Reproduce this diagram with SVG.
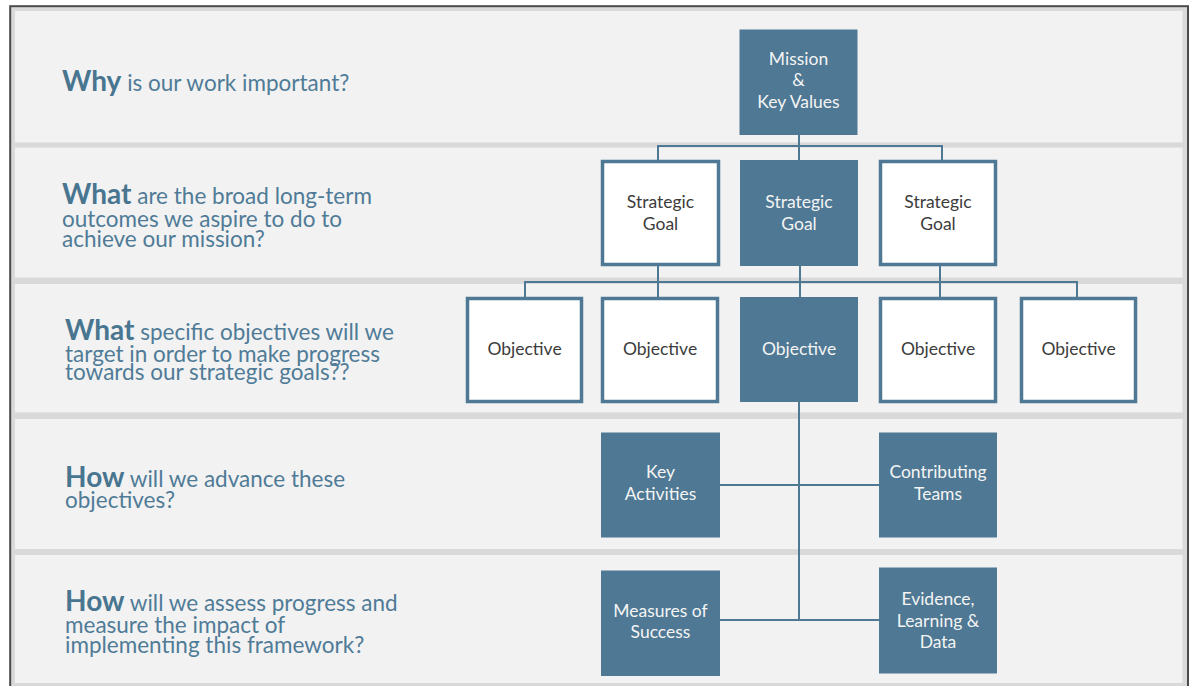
<svg xmlns="http://www.w3.org/2000/svg" width="1192" height="686" viewBox="0 0 1192 686">
<style>
.panel{fill:#f2f2f2}
.q{font-family:Lato,"Open Sans",sans-serif;fill:#4f7b97;font-size:22.5px}
.qb{font-weight:bold;font-size:28px;fill:#48758f}
.dark{fill:#4e7893}
.light{fill:#ffffff;stroke:#4e7893;stroke-width:3.5}
.t{font-family:Lato,"Open Sans",sans-serif;font-size:17.5px;text-anchor:middle}
.tw{fill:#f4f4f4}
.tk{fill:#3c3c3c}
.conn{fill:none;stroke:#4e7893;stroke-width:2}
</style>
<rect x="0" y="0" width="1192" height="686" fill="#ffffff"/>
<rect x="10.2" y="6.2" width="1177.8" height="690" fill="#d9d9d9" stroke="#4a4a4a" stroke-width="2"/>
<g id="bands">
<rect class="panel" x="15" y="11" width="1167.5" height="131.5"/>
<rect class="panel" x="15" y="147.5" width="1167.5" height="130"/>
<rect class="panel" x="15" y="284" width="1167.5" height="128.5"/>
<rect class="panel" x="15" y="419" width="1167.5" height="130"/>
<rect class="panel" x="15" y="555" width="1167.5" height="128"/>
</g>
<g id="questions">
<text class="q" x="62" y="91"><tspan class="qb">Why</tspan> is our work important?</text>
<text class="q" x="62" y="204"><tspan class="qb">What</tspan> are the broad long-term</text>
<text class="q" x="62" y="226.5">outcomes we aspire to do to</text>
<text class="q" x="62" y="246.5">achieve our mission?</text>
<text class="q" x="65" y="340"><tspan class="qb">What</tspan> specific objectives will we</text>
<text class="q" x="65" y="361.5">target in order to make progress</text>
<text class="q" x="65" y="380">towards our strategic goals??</text>
<text class="q" x="65" y="486.5"><tspan class="qb">How</tspan> will we advance these</text>
<text class="q" x="65" y="508">objectives?</text>
<text class="q" x="65" y="610.5"><tspan class="qb">How</tspan> will we assess progress and</text>
<text class="q" x="65" y="633">measure the impact of</text>
<text class="q" x="65" y="653">implementing this framework?</text>
</g>
<g id="connectors">
<polyline class="conn" points="658,160 658,146 942,146 942,160"/>
<line class="conn" x1="799" y1="135" x2="799" y2="160"/>
<polyline class="conn" points="525,297 525,282 1077,282 1077,297"/>
<line class="conn" x1="658" y1="266" x2="658" y2="297"/>
<line class="conn" x1="800" y1="266" x2="800" y2="297"/>
<line class="conn" x1="940" y1="266" x2="940" y2="297"/>
<polyline class="conn" points="799,402 799,620"/>
<line class="conn" x1="720" y1="485" x2="879" y2="485"/>
<line class="conn" x1="720" y1="620" x2="879" y2="620"/>
</g>
<g id="mission">
<rect class="dark" x="739.5" y="29.5" width="118" height="105.5"/>
<text class="t tw" x="798.5" y="65">Mission</text>
<text class="t tw" x="798.5" y="86">&amp;</text>
<text class="t tw" x="798.5" y="108">Key Values</text>
</g>
<g id="goal1">
<rect class="light" x="602.5" y="161.5" width="116" height="103"/>
<text class="t tk" x="660.5" y="208">Strategic</text>
<text class="t tk" x="660.5" y="230">Goal</text>
</g>
<g id="goal2">
<rect class="dark" x="740" y="160" width="118" height="106"/>
<text class="t tw" x="799" y="208">Strategic</text>
<text class="t tw" x="799" y="230">Goal</text>
</g>
<g id="goal3">
<rect class="light" x="880.5" y="161.5" width="115" height="103"/>
<text class="t tk" x="938" y="208">Strategic</text>
<text class="t tk" x="938" y="230">Goal</text>
</g>
<g id="obj1">
<rect class="light" x="467.5" y="298.5" width="114" height="103"/>
<text class="t tk" x="524.5" y="355">Objective</text>
</g>
<g id="obj2">
<rect class="light" x="602.5" y="298.5" width="115" height="103"/>
<text class="t tk" x="660" y="355">Objective</text>
</g>
<g id="obj3">
<rect class="dark" x="740" y="297" width="118" height="105"/>
<text class="t tw" x="799" y="355">Objective</text>
</g>
<g id="obj4">
<rect class="light" x="880.5" y="298.5" width="115" height="103"/>
<text class="t tk" x="938" y="355">Objective</text>
</g>
<g id="obj5">
<rect class="light" x="1021.5" y="298.5" width="114" height="103"/>
<text class="t tk" x="1078.5" y="355">Objective</text>
</g>
<g id="keyActivities">
<rect class="dark" x="601" y="432.5" width="119" height="105"/>
<text class="t tw" x="660.5" y="478">Key</text>
<text class="t tw" x="660.5" y="500">Activities</text>
</g>
<g id="contributingTeams">
<rect class="dark" x="879" y="432.5" width="118" height="105"/>
<text class="t tw" x="938" y="478">Contributing</text>
<text class="t tw" x="938" y="500">Teams</text>
</g>
<g id="measures">
<rect class="dark" x="601" y="570.5" width="119" height="105.5"/>
<text class="t tw" x="660.5" y="616.5">Measures of</text>
<text class="t tw" x="660.5" y="638">Success</text>
</g>
<g id="evidence">
<rect class="dark" x="879" y="567.5" width="118" height="106"/>
<text class="t tw" x="938" y="605">Evidence,</text>
<text class="t tw" x="938" y="627">Learning &amp;</text>
<text class="t tw" x="938" y="648">Data</text>
</g>
</svg>
